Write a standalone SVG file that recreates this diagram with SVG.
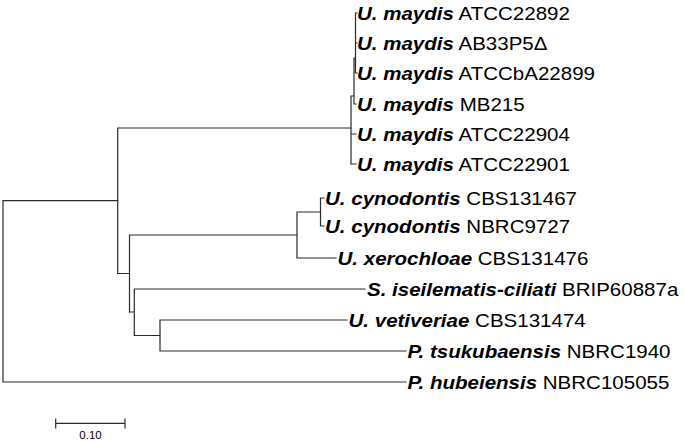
<svg xmlns="http://www.w3.org/2000/svg" width="685" height="441" viewBox="0 0 685 441">
<style>
.br{fill:none;stroke:#2b2b2b;stroke-width:1.2;stroke-linecap:square}
.lab{font-family:"Liberation Sans",Arial,sans-serif;font-size:18px;fill:#000}
.sp{font-weight:bold;font-style:italic}
.sc{font-family:"Liberation Sans",Arial,sans-serif;font-size:11.5px;fill:#000;text-anchor:middle}
</style>
<rect width="685" height="441" fill="#fff"/>
<g id="connectors" class="br">
<path d="M3 200.7V382M3 382H406M3 200.7H117.7"/>
<path d="M117.7 128V273.5M117.7 128H351M117.7 273.5H129.5"/>
<path d="M351 96V164M351 164H356M351 134H356M351 96H354M354 58V104M354 104H356M354 58H355.5M355.5 13V73M355.5 13H357M355.5 43H357M355.5 73H357"/>
<path d="M129.5 235V312M129.5 235H297M297 212V258M297 212H320.5M320.5 198V226M320.5 198H324M320.5 226H324M297 258H336"/>
<path d="M129.5 312H134.3M134.3 289V335.5M134.3 289H365M134.3 335.5H160M160 320V351M160 320H347M160 351H406"/>
<path d="M55.7 423.3H125M55.7 419V428M125 419V428"/>
</g>
<g id="n_maydis_ATCC22892"><text class="lab" transform="translate(357 20) scale(1.14 1)"><tspan class="sp">U. maydis</tspan> ATCC22892</text></g>
<g id="n_maydis_AB33P5"><text class="lab" transform="translate(357 50) scale(1.14 1)"><tspan class="sp">U. maydis</tspan> AB33P5Δ</text></g>
<g id="n_maydis_ATCCbA22899"><text class="lab" transform="translate(357 80) scale(1.14 1)"><tspan class="sp">U. maydis</tspan> ATCCbA22899</text></g>
<g id="n_maydis_MB215"><text class="lab" transform="translate(357 111) scale(1.14 1)"><tspan class="sp">U. maydis</tspan> MB215</text></g>
<g id="n_maydis_ATCC22904"><text class="lab" transform="translate(357 141) scale(1.14 1)"><tspan class="sp">U. maydis</tspan> ATCC22904</text></g>
<g id="n_maydis_ATCC22901"><text class="lab" transform="translate(357 171) scale(1.14 1)"><tspan class="sp">U. maydis</tspan> ATCC22901</text></g>
<g id="n_cynodontis_CBS131467"><text class="lab" transform="translate(325 205) scale(1.14 1)"><tspan class="sp">U. cynodontis</tspan> CBS131467</text></g>
<g id="n_cynodontis_NBRC9727"><text class="lab" transform="translate(325 233) scale(1.14 1)"><tspan class="sp">U. cynodontis</tspan> NBRC9727</text></g>
<g id="n_xerochloae"><text class="lab" transform="translate(337.5 265) scale(1.14 1)"><tspan class="sp">U. xerochloae</tspan> CBS131476</text></g>
<g id="n_iseilematis"><text class="lab" transform="translate(367 296) scale(1.14 1)"><tspan class="sp">S. iseilematis-ciliati</tspan> BRIP60887a</text></g>
<g id="n_vetiveriae"><text class="lab" transform="translate(348.5 327) scale(1.14 1)"><tspan class="sp">U. vetiveriae</tspan> CBS131474</text></g>
<g id="n_tsukubaensis"><text class="lab" transform="translate(407.5 358) scale(1.14 1)"><tspan class="sp">P. tsukubaensis</tspan> NBRC1940</text></g>
<g id="n_hubeiensis"><text class="lab" transform="translate(407.5 389) scale(1.14 1)"><tspan class="sp">P. hubeiensis</tspan> NBRC105055</text></g>
<g id="scalebar"><text class="sc" x="90.5" y="439">0.10</text></g>
</svg>
